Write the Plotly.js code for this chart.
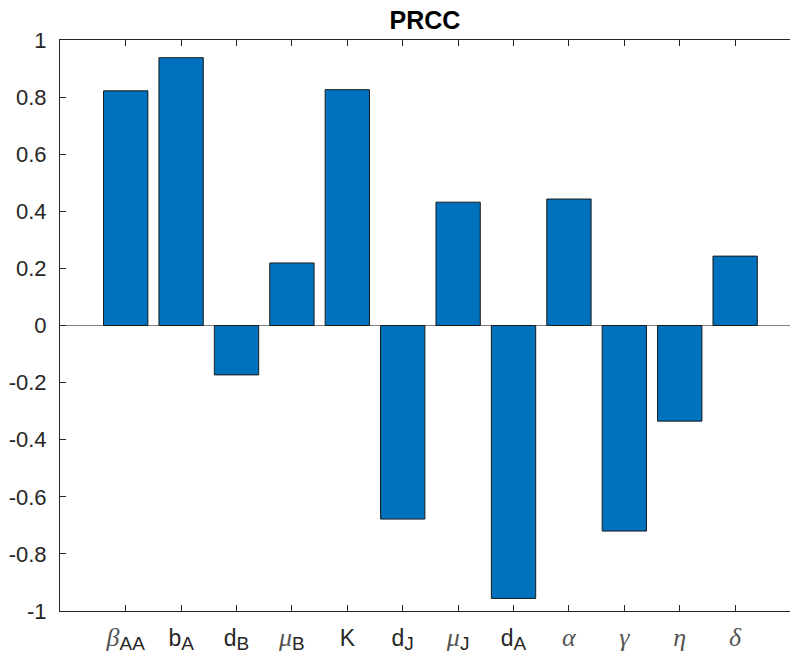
<!DOCTYPE html>
<html>
<head>
<meta charset="utf-8">
<script src="https://cdn.plot.ly/plotly-3.0.1.min.js"></script>
<style>
  html, body { margin: 0; padding: 0; background: #fff; }
  #chart { width: 790px; height: 660px; }
</style>
</head>
<body>
<div id="chart"></div>
<script>
// Parameter names (rich-text tick labels) and their PRCC values
const greek = s => '<span style="font-family:\'Liberation Serif\';font-size:26px;color:#555"><i>' + s + '</i></span>';
const sub = s => '<sub><span style="font-size:19px">' + s + '</span></sub>';
const params = ['beta_AA', 'b_A', 'd_B', 'mu_B', 'K', 'd_J', 'mu_J', 'd_A', 'alpha', 'gamma', 'eta', 'delta'];
const paramLabels = [
  greek('β') + sub('AA'),
  'b' + sub('A'),
  'd' + sub('B'),
  greek('μ') + sub('B'),
  'K',
  'd' + sub('J'),
  greek('μ') + sub('J'),
  'd' + sub('A'),
  greek('α'),
  greek('γ'),
  greek('η'),
  greek('δ')
];
const prcc = [0.822, 0.938, -0.173, 0.219, 0.826, -0.678, 0.432, -0.956, 0.443, -0.720, -0.335, 0.243];

const yTickVals = [-1, -0.8, -0.6, -0.4, -0.2, 0, 0.2, 0.4, 0.6, 0.8, 1];
const yTickText = ['-1', '-0.8', '-0.6', '-0.4', '-0.2', '0', '0.2', '0.4', '0.6', '0.8', '1'];

const axisColor = '#262626';

const trace = {
  type: 'bar',
  x: params,
  y: prcc,
  marker: { color: '#0072BD', line: { color: '#1a1a1a', width: 1 } },
  width: 0.8,
  hoverinfo: 'x+y'
};

const layout = {
  width: 790,
  height: 660,
  margin: { l: 60, r: 0, t: 40, b: 49 },
  paper_bgcolor: '#fff',
  plot_bgcolor: '#fff',
  showlegend: false,
  font: { family: 'Liberation Sans, Arial, sans-serif', color: axisColor, size: 22 },
  title: {
    text: '<b>PRCC</b>',
    font: { size: 25, color: '#000', family: 'Liberation Sans, Arial, sans-serif' },
    x: 0.5, xref: 'paper', xanchor: 'center',
    y: 0.97, yref: 'container', yanchor: 'middle'
  },
  xaxis: {
    type: 'category',
    range: [-1.186, 11.99],
    tickvals: params,
    ticktext: paramLabels,
    ticks: 'inside',
    ticklen: 6,
    tickcolor: axisColor,
    showline: true,
    linecolor: axisColor,
    linewidth: 1,
    mirror: 'ticks',
    showgrid: false,
    zeroline: false,
    tickfont: { size: 23, color: axisColor },
    ticklabelstandoff: 6
  },
  yaxis: {
    range: [-1, 1],
    tickvals: yTickVals,
    ticktext: yTickText,
    ticks: 'inside',
    ticklen: 6,
    tickcolor: axisColor,
    showline: true,
    linecolor: axisColor,
    linewidth: 1,
    mirror: false,
    showgrid: false,
    zeroline: true,
    zerolinecolor: '#808080',
    zerolinewidth: 1,
    tickfont: { size: 22, color: axisColor },
    ticklabelstandoff: 8
  },
  bargap: 0.2
};

Plotly.newPlot('chart', [trace], layout, { displayModeBar: false, staticPlot: true });
</script>
</body>
</html>
